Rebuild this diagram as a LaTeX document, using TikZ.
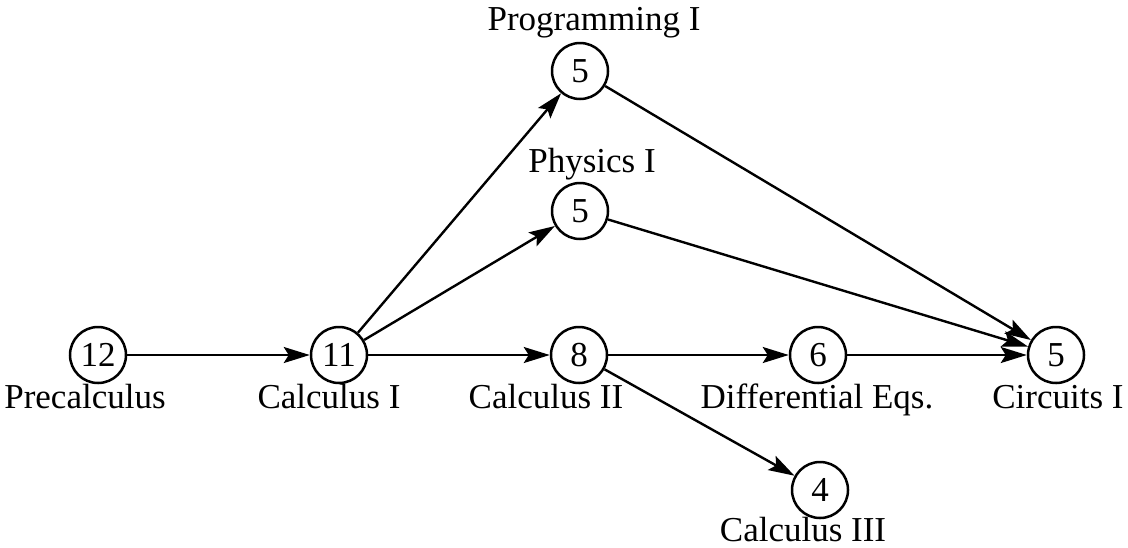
\documentclass[tikz,border=0pt]{standalone}
\usepackage{fontspec}
\setmainfont{Liberation Serif}
\usetikzlibrary{arrows.meta}
\begin{document}
\begin{tikzpicture}[x=0.5pt,y=-0.5pt,
  course/.style={circle,draw,line width=1.25pt,minimum size=28pt,inner sep=0pt,font=\fontsize{17.5}{21}\selectfont},
  lbl/.style={anchor=base,inner sep=0pt,font=\fontsize{17.5}{21}\selectfont},
  edge/.style={line width=1.2pt,-{Stealth[length=13pt,width=8pt,inset=2.5pt]}}]
\useasboundingbox (0,0) rectangle (1128,547);
\node[course] (pre) at (98,355) {12};
\node[course] (c1) at (339,355) {11};
\node[course] (c2) at (579,355) {8};
\node[course] (de) at (818,355) {6};
\node[course] (ci) at (1056,355) {5};
\node[course] (pr) at (580,71) {5};
\node[course] (ph) at (580,211) {5};
\node[course] (c3) at (820,490) {4};
\node[lbl] (lpre) at (85,408) {Precalculus};
\node[lbl] (lc1) at (329,408) {Calculus I};
\node[lbl] (lc2) at (546,408) {Calculus II};
\node[lbl] (lde) at (817,408) {Differential Eqs.};
\node[lbl] (lci) at (1058,408) {Circuits I};
\node[lbl] (lpr) at (594,30) {Programming I};
\node[lbl] (lph) at (592,172) {Physics I};
\node[lbl] (lc3) at (803,541) {Calculus III};
\draw[edge] (pre) -- (c1);
\draw[edge] (c1) -- (pr);
\draw[edge] (c1) -- (ph);
\draw[edge] (c1) -- (c2);
\draw[edge] (pr) -- (ci);
\draw[edge] (ph) -- (ci);
\draw[edge] (c2) -- (de);
\draw[edge] (c2) -- (c3);
\draw[edge] (de) -- (ci);
\end{tikzpicture}
\end{document}
